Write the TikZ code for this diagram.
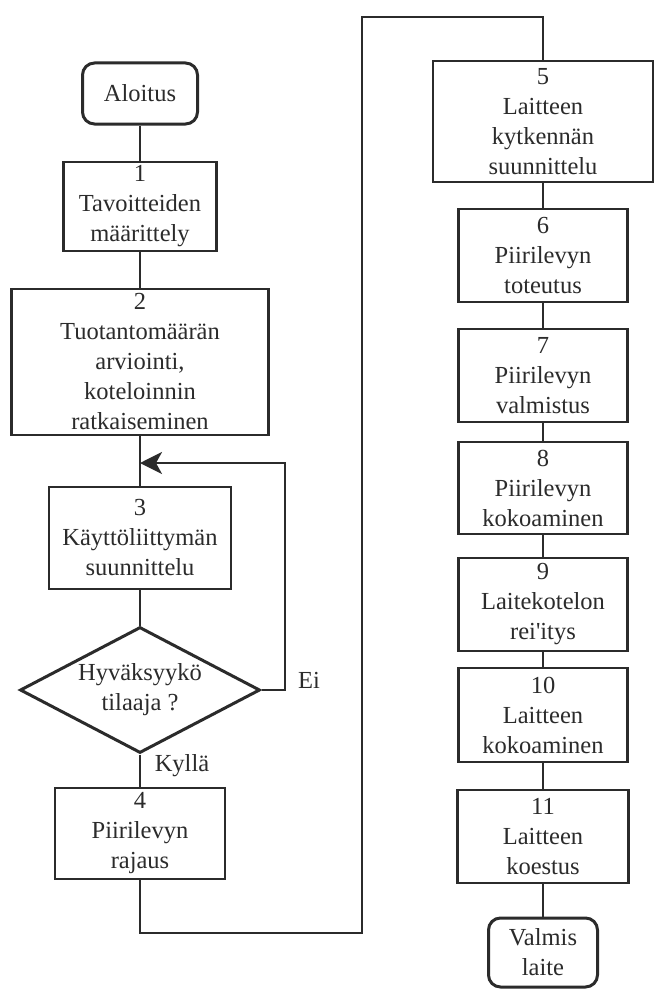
\documentclass[tikz,border=0pt]{standalone}
\usepackage{fontspec}
\setmainfont{Liberation Serif}[Ligatures=TeXOff]
\usetikzlibrary{shapes.geometric,arrows.meta}
\definecolor{ink}{HTML}{2b2b2b}
\begin{document}
\begin{tikzpicture}[x=1pt,y=-1pt,
  every node/.style={text=ink, font=\fontsize{24.5}{30}\selectfont, align=center, inner sep=0pt},
  box/.style={draw=ink, line width=2.4pt, rectangle},
  term/.style={draw=ink, line width=3pt, rectangle, rounded corners=12pt},
  dec/.style={draw=ink, line width=3pt, diamond, aspect=1.9},
  conn/.style={draw=ink, line width=2.2pt}]
\fill[white] (0,0) rectangle (656,990);
\useasboundingbox (0,0) rectangle (656,990);
% left column
\node[term, minimum width=115pt, minimum height=61pt] (start) at (140,93.5) {Aloitus};
\node[box, minimum width=153pt, minimum height=89pt] (b1) at (140,206.5) {1\\Tavoitteiden\\määrittely};
\node[box, minimum width=257pt, minimum height=146pt] (b2) at (140,362) {2\\Tuotantomäärän\\arviointi,\\koteloinnin\\ratkaiseminen};
\node[box, minimum width=182pt, minimum height=102pt] (b3) at (140,538) {3\\Käyttöliittymän\\suunnittelu};
\node[dec, minimum width=240pt, minimum height=126pt] (d) at (140,690) {Hyväksyykö\\tilaaja ?};
\node[box, minimum width=170pt, minimum height=91pt] (b4) at (140,833.5) {4\\Piirilevyn\\rajaus};
% right column
\node[box, minimum width=220pt, minimum height=121pt] (b5) at (543,121.5) {5\\Laitteen\\kytkennän\\suunnittelu};
\node[box, minimum width=169pt, minimum height=93pt] (b6) at (543,255.5) {6\\Piirilevyn\\toteutus};
\node[box, minimum width=169pt, minimum height=93pt] (b7) at (543,375.5) {7\\Piirilevyn\\valmistus};
\node[box, minimum width=169pt, minimum height=92pt] (b8) at (543,488) {8\\Piirilevyn\\kokoaminen};
\node[box, minimum width=169pt, minimum height=93pt] (b9) at (543,604.5) {9\\Laitekotelon\\rei'itys};
\node[box, minimum width=169pt, minimum height=94pt] (b10) at (543,715) {10\\Laitteen\\kokoaminen};
\node[box, minimum width=171pt, minimum height=93pt] (b11) at (543,836.5) {11\\Laitteen\\koestus};
\node[term, minimum width=109pt, minimum height=69pt] (end) at (543,952.5) {Valmis\\laite};
% labels
\node (ei) at (309,680) {Ei};
\node (kylla) at (182,766) {Kyllä};
% connectors
\coordinate (ret) at (140,463);
\coordinate (eic) at (285,690);
\coordinate (c1) at (362,933);
\coordinate (c2) at (362,17);
\draw[conn] (start) -- (b1);
\draw[conn] (b1) -- (b2);
\draw[conn] (b2) -- (b3);
\draw[conn] (b3) -- (d);
\draw[conn] (d) -- (b4);
\draw[conn, -{Stealth[length=22pt,width=22pt,inset=6pt]}] (d.east) -- (eic) |- (ret);
\draw[conn] (b4.south) |- (c1) -- (c2) -| (b5.north);
\draw[conn] (b5) -- (b6);
\draw[conn] (b6) -- (b7);
\draw[conn] (b7) -- (b8);
\draw[conn] (b8) -- (b9);
\draw[conn] (b9) -- (b10);
\draw[conn] (b10) -- (b11);
\draw[conn] (b11) -- (end);
\end{tikzpicture}
\end{document}
